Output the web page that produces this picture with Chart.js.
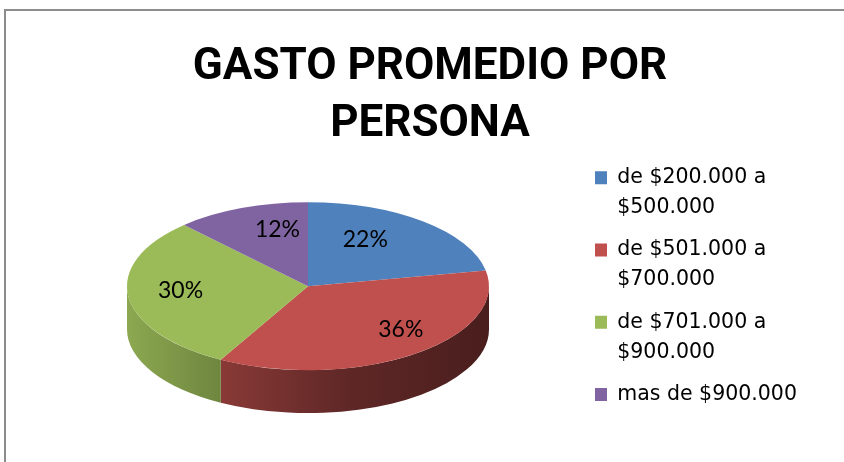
<!DOCTYPE html>
<html><head><meta charset="utf-8">
<script src="https://cdn.jsdelivr.net/npm/chart.js@4/dist/chart.umd.min.js"></script>
<style>
html,body{margin:0;padding:0;background:#fff;}
#wrap{position:relative;width:844px;height:462px;overflow:hidden;background:#fff;}
#frame{position:absolute;left:4px;top:9px;width:900px;height:500px;border:2px solid #8c8c8c;box-sizing:border-box;}
canvas{position:absolute;left:0;top:0;}
</style></head><body>
<div id="wrap"><div id="frame"></div><canvas id="c" width="844" height="462"></canvas></div>
<script>
// ---- data ----
const titleLines = ['GASTO PROMEDIO POR', 'PERSONA'];
const categories = [
  ['de $200.000 a', '$500.000'],
  ['de $501.000 a', '$700.000'],
  ['de $701.000 a', '$900.000'],
  'mas de $900.000'
];
const percentages = [22, 36, 30, 12];
const sliceColors = ['#4F81BD', '#C0504D', '#9BBB59', '#8064A2'];

// ---- 3D look ----
const TILT = 0.464;   // vertical squash of the pie
const DEPTH = 43;     // thickness of the side wall
const LABEL_POS = 0.68;
const LABEL_PERSP = 0.35;
const LABEL_LIFT = -3;

function shade(hex, f) {
  const n = parseInt(hex.slice(1), 16);
  const r = Math.round(((n >> 16) & 255) * f);
  const g = Math.round(((n >> 8) & 255) * f);
  const b = Math.round((n & 255) * f);
  return `rgb(${r},${g},${b})`;
}

const pie3d = {
  id: 'pie3d',
  afterInit(chart) {
    const lg = chart.legend;
    if (lg) {
      const fit = lg.fit;
      lg.fit = function () { fit.call(this); this.width = 244; };
    }
  },
  beforeDatasetsDraw(chart) {
    const ctx = chart.ctx;
    const meta = chart.getDatasetMeta(0);
    meta.data.forEach((arc, i) => {
      const p = arc.getProps(['x', 'y', 'startAngle', 'endAngle', 'outerRadius'], true);
      const a0 = Math.max(p.startAngle, 0), a1 = Math.min(p.endAngle, Math.PI);
      if (a1 <= a0) return;
      const R = p.outerRadius;
      const col = sliceColors[i];
      const g = ctx.createLinearGradient(p.x - R, 0, p.x + R, 0);
      g.addColorStop(0, shade(col, 0.9));
      g.addColorStop(0.25, shade(col, 0.72));
      g.addColorStop(0.6, shade(col, 0.5));
      g.addColorStop(1, shade(col, 0.38));
      ctx.save();
      ctx.beginPath();
      ctx.ellipse(p.x, p.y, R, R * TILT, 0, a0, a1);
      ctx.ellipse(p.x, p.y + DEPTH, R, R * TILT, 0, a1, a0, true);
      ctx.closePath();
      ctx.fillStyle = g;
      ctx.fill();
      ctx.restore();
    });
    const m = meta.data[0];
    ctx.save();
    ctx.translate(m.x, m.y);
    ctx.scale(1, TILT);
    ctx.translate(-m.x, -m.y);
  },
  afterDatasetsDraw(chart) {
    const ctx = chart.ctx;
    ctx.restore();
    const meta = chart.getDatasetMeta(0);
    ctx.save();
    ctx.font = '23px Lato';
    ctx.fillStyle = '#000';
    ctx.textAlign = 'center';
    ctx.textBaseline = 'middle';
    meta.data.forEach((arc, i) => {
      const p = arc.getProps(['x', 'y', 'startAngle', 'endAngle', 'outerRadius'], true);
      const mid = (p.startAngle + p.endAngle) / 2;
      const r = p.outerRadius * LABEL_POS;
      const persp = 1 + LABEL_PERSP * Math.sin(mid);
      const x = p.x + r * Math.cos(mid) * persp;
      const y = p.y + LABEL_LIFT + r * Math.sin(mid) * TILT;
      ctx.fillText(chart.data.datasets[0].data[i] + '%', x, y);
    });
    ctx.restore();
  }
};

new Chart(document.getElementById('c'), {
  type: 'pie',
  data: {
    labels: categories,
    datasets: [{
      data: percentages,
      backgroundColor: sliceColors,
      borderWidth: 0,
      radius: 181,
      clip: false,
      hoverOffset: 0
    }]
  },
  options: {
    responsive: false,
    animation: false,
    events: [],
    layout: { padding: { left: 33, right: 17, top: 0, bottom: 44 } },
    plugins: {
      title: {
        display: true,
        text: titleLines,
        color: '#000',
        font: { family: 'Roboto', size: 44, weight: 'bold', lineHeight: 1.31 },
        padding: { top: 39, bottom: 0 }
      },
      legend: {
        position: 'right',
        align: 'center',
        fullSize: false,
        labels: {
          boxWidth: 12,
          boxHeight: 13,
          padding: 12,
          color: '#000',
          font: { family: 'DejaVu Sans', size: 20.5, lineHeight: 1.47 }
        }
      },
      tooltip: { enabled: false }
    }
  },
  plugins: [pie3d]
});
</script>
</body></html>
